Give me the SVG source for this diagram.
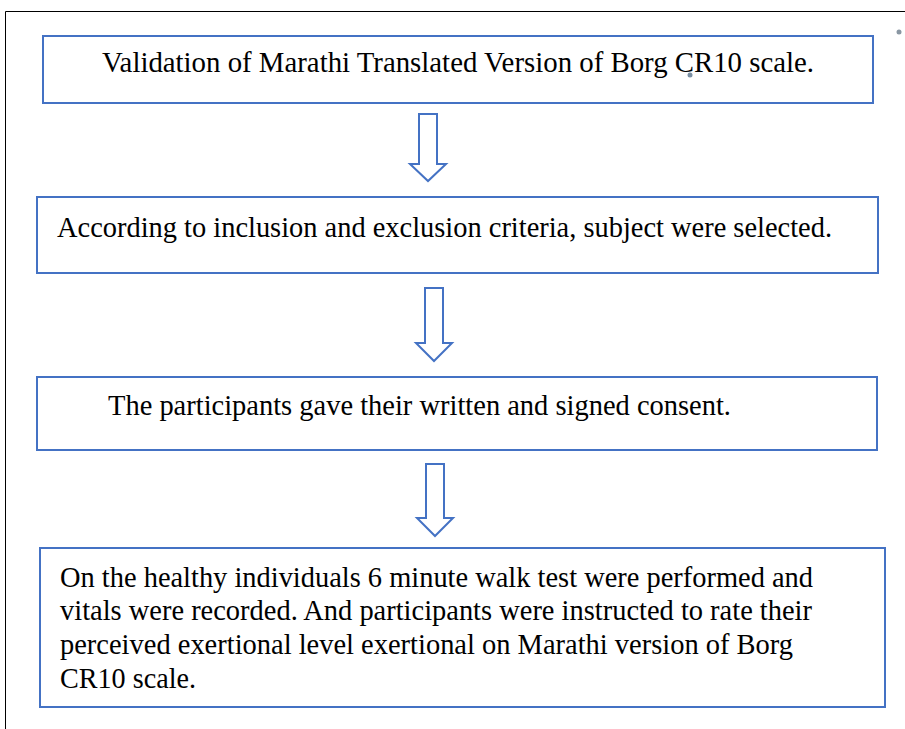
<svg xmlns="http://www.w3.org/2000/svg" width="905" height="729" viewBox="0 0 905 729">
<style>
.box{fill:#fff;stroke:#4472c4;stroke-width:2}
.arr{fill:#fff;stroke:#4472c4;stroke-width:2;stroke-linejoin:miter}
.t{font-family:"Liberation Serif","Times New Roman",serif;font-size:28.5px;fill:#000}
.frame{stroke:#000;stroke-width:1;fill:none}
</style>
<rect width="905" height="729" fill="#fff"/>
<path class="frame" d="M5.5 729 V11.5 H905"/>
<circle cx="899" cy="32" r="2.5" fill="#8a97a3"/>
<g id="connectors">
<path class="arr" d="M419 114 H437 V164 H446 L428 181 L410 164 H419 Z"/>
<path class="arr" d="M425 288 H443 V343 H452 L434 361 L416 343 H425 Z"/>
<path class="arr" d="M426 464 H444 V518 H453 L435 536 L417 518 H426 Z"/>
</g>
<g id="node1">
<rect class="box" x="43" y="36" width="830" height="67"/>
<text class="t" x="102" y="72" textLength="712" lengthAdjust="spacingAndGlyphs">Validation of Marathi Translated Version of Borg CR10 scale.</text>
<circle cx="690" cy="75" r="2.5" fill="#7a8fa3"/>
</g>
<g id="node2">
<rect class="box" x="37" y="197" width="841" height="76"/>
<text class="t" x="57" y="237" textLength="775" lengthAdjust="spacingAndGlyphs">According to inclusion and exclusion criteria, subject were selected.</text>
</g>
<g id="node3">
<rect class="box" x="37" y="377" width="840" height="73"/>
<text class="t" x="108" y="415" textLength="623" lengthAdjust="spacingAndGlyphs">The participants gave their written and signed consent.</text>
</g>
<g id="node4">
<rect class="box" x="40" y="548" width="845" height="159"/>
<text class="t" x="60" y="587" textLength="753" lengthAdjust="spacingAndGlyphs">On the healthy individuals 6 minute walk test were performed and</text>
<text class="t" x="60" y="620" textLength="752" lengthAdjust="spacingAndGlyphs">vitals were recorded. And participants were instructed to rate their</text>
<text class="t" x="60" y="654" textLength="733" lengthAdjust="spacingAndGlyphs">perceived exertional level exertional on Marathi version of Borg</text>
<text class="t" x="60" y="688" textLength="136" lengthAdjust="spacingAndGlyphs">CR10 scale.</text>
</g>
</svg>
